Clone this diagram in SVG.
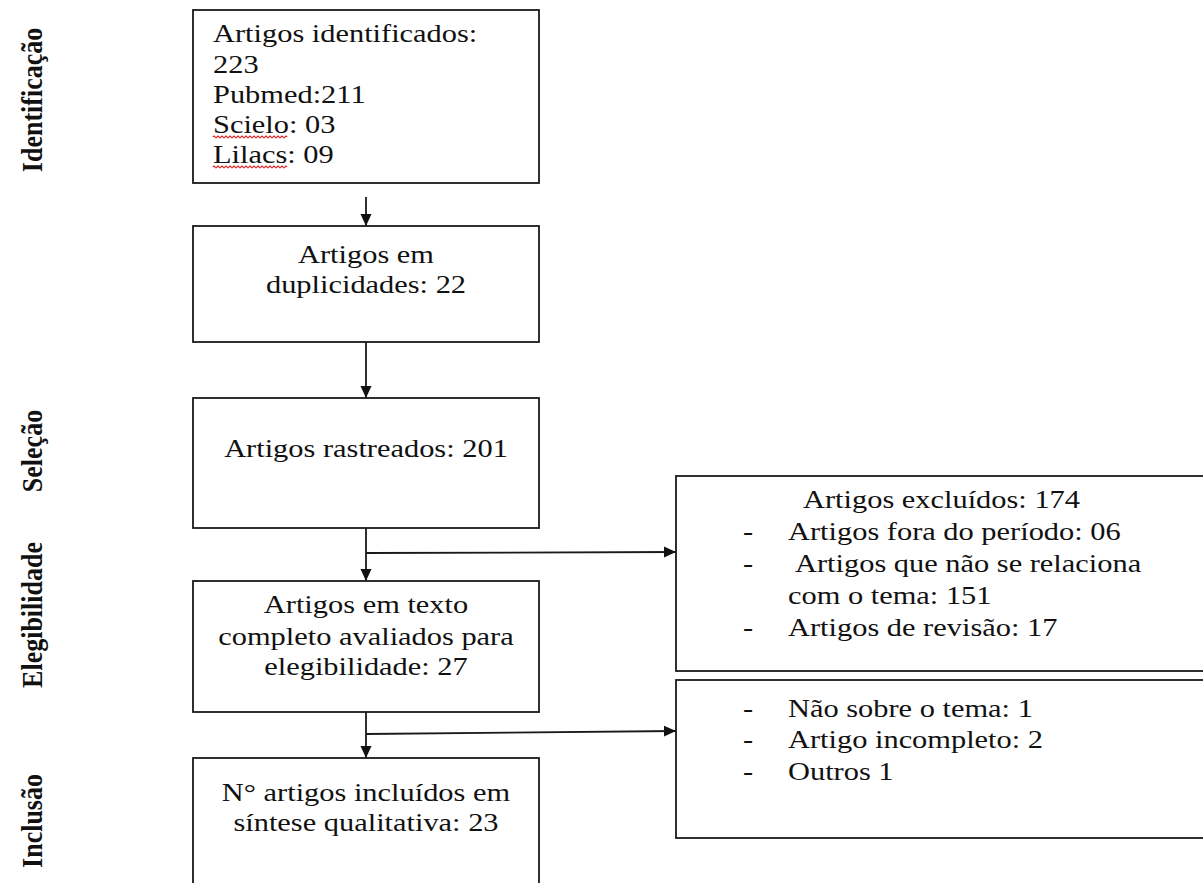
<svg xmlns="http://www.w3.org/2000/svg" width="1203" height="883" viewBox="0 0 1203 883">
<style>
.box{fill:#fff;stroke:#1a1a1a;stroke-width:1.8}
.t{font-family:'Liberation Serif','Times New Roman','DejaVu Serif',serif;font-size:26px;fill:#111}
.c{text-anchor:middle}
.lbl{font-family:'Liberation Serif','Times New Roman','DejaVu Serif',serif;font-size:26px;font-weight:bold;fill:#111;text-anchor:middle}
.conn{fill:none;stroke:#1a1a1a;stroke-width:1.8}
.wave{fill:none;stroke:#e02020;stroke-width:1.2}
</style>
<defs>
<marker id="ah" viewBox="0 0 12 12" refX="12" refY="6" markerWidth="12" markerHeight="12" markerUnits="userSpaceOnUse" orient="auto">
<path d="M0,0.5 L12,6 L0,11.5 z" fill="#111"/>
</marker>
</defs>
<rect width="1203" height="883" fill="#fff"/>

<g id="phase-labels" font-family="Liberation Serif, serif">
<text class="lbl" transform="translate(42,100) scale(1.17,1) rotate(-90)">Identificação</text>
<text class="lbl" transform="translate(42,451) scale(1.17,1) rotate(-90)">Seleção</text>
<text class="lbl" transform="translate(42,615) scale(1.17,1) rotate(-90)">Elegibilidade</text>
<text class="lbl" transform="translate(42,821) scale(1.17,1) rotate(-90)">Inclusão</text>
</g>

<g id="connectors">
<line class="conn" x1="366" y1="197" x2="366" y2="226" marker-end="url(#ah)"/>
<line class="conn" x1="366" y1="342" x2="366" y2="398" marker-end="url(#ah)"/>
<line class="conn" x1="366" y1="528" x2="366" y2="581" marker-end="url(#ah)"/>
<line class="conn" x1="366" y1="553" x2="676" y2="552" marker-end="url(#ah)"/>
<line class="conn" x1="366" y1="712" x2="366" y2="758" marker-end="url(#ah)"/>
<line class="conn" x1="366" y1="734" x2="676" y2="731" marker-end="url(#ah)"/>
</g>

<g id="node-identificados">
<rect class="box" x="193" y="10" width="346" height="173"/>
<text class="t" transform="translate(213,42) scale(1.17,1)">Artigos identificados:</text>
<text class="t" transform="translate(213,73) scale(1.17,1)">223</text>
<text class="t" transform="translate(213,103) scale(1.17,1)">Pubmed:211</text>
<text class="t" transform="translate(213,133) scale(1.17,1)">Scielo: 03</text>
<text class="t" transform="translate(213,163) scale(1.17,1)">Lilacs: 09</text>
<path class="wave" d="M213 137 q1 -1.6 2 0 t2 0 t2 0 t2 0 t2 0 t2 0 t2 0 t2 0 t2 0 t2 0 t2 0 t2 0 t2 0 t2 0 t2 0 t2 0 t2 0 t2 0 t2 0 t2 0 t2 0 t2 0 t2 0 t2 0 t2 0 t2 0 t2 0 t2 0 t2 0 t2 0 t2 0 t2 0 t2 0 t2 0 t2 0 t2 0 t2 0"/>
<path class="wave" d="M213 167 q1 -1.6 2 0 t2 0 t2 0 t2 0 t2 0 t2 0 t2 0 t2 0 t2 0 t2 0 t2 0 t2 0 t2 0 t2 0 t2 0 t2 0 t2 0 t2 0 t2 0 t2 0 t2 0 t2 0 t2 0 t2 0 t2 0 t2 0 t2 0 t2 0 t2 0 t2 0 t2 0 t2 0 t2 0 t2 0 t2 0 t2 0 t2 0"/>
</g>

<g id="node-duplicidades">
<rect class="box" x="193" y="226" width="346" height="116"/>
<text class="t c" transform="translate(366,263) scale(1.17,1)">Artigos em</text>
<text class="t c" transform="translate(366,293) scale(1.17,1)">duplicidades: 22</text>
</g>

<g id="node-rastreados">
<rect class="box" x="193" y="398" width="346" height="130"/>
<text class="t c" transform="translate(366,457) scale(1.17,1)">Artigos rastreados: 201</text>
</g>

<g id="node-elegibilidade">
<rect class="box" x="193" y="581" width="346" height="131"/>
<text class="t c" transform="translate(366,613) scale(1.17,1)">Artigos em texto</text>
<text class="t c" transform="translate(366,645) scale(1.17,1)">completo avaliados para</text>
<text class="t c" transform="translate(366,675) scale(1.17,1)">elegibilidade: 27</text>
</g>

<g id="node-incluidos">
<rect class="box" x="193" y="758" width="346" height="140"/>
<text class="t c" transform="translate(366,801) scale(1.17,1)">N° artigos incluídos em</text>
<text class="t c" transform="translate(366,831) scale(1.17,1)">síntese qualitativa: 23</text>
</g>

<g id="node-excluidos">
<rect class="box" x="676" y="476" width="540" height="195"/>
<text class="t" transform="translate(803,508) scale(1.17,1)">Artigos excluídos: 174</text>
<text class="t" transform="translate(743,540) scale(1.17,1)">-</text>
<text class="t" transform="translate(788,540) scale(1.17,1)">Artigos fora do período: 06</text>
<text class="t" transform="translate(743,572) scale(1.17,1)">-</text>
<text class="t" transform="translate(795,572) scale(1.17,1)">Artigos que não se relaciona</text>
<text class="t" transform="translate(788,604) scale(1.17,1)">com o tema: 151</text>
<text class="t" transform="translate(743,636) scale(1.17,1)">-</text>
<text class="t" transform="translate(788,636) scale(1.17,1)">Artigos de revisão: 17</text>
</g>

<g id="node-excluidos-elegibilidade">
<rect class="box" x="676" y="680" width="540" height="158"/>
<text class="t" transform="translate(743,717) scale(1.17,1)">-</text>
<text class="t" transform="translate(788,717) scale(1.17,1)">Não sobre o tema: 1</text>
<text class="t" transform="translate(743,748) scale(1.17,1)">-</text>
<text class="t" transform="translate(788,748) scale(1.17,1)">Artigo incompleto: 2</text>
<text class="t" transform="translate(743,780) scale(1.17,1)">-</text>
<text class="t" transform="translate(788,780) scale(1.17,1)">Outros 1</text>
</g>
</svg>
